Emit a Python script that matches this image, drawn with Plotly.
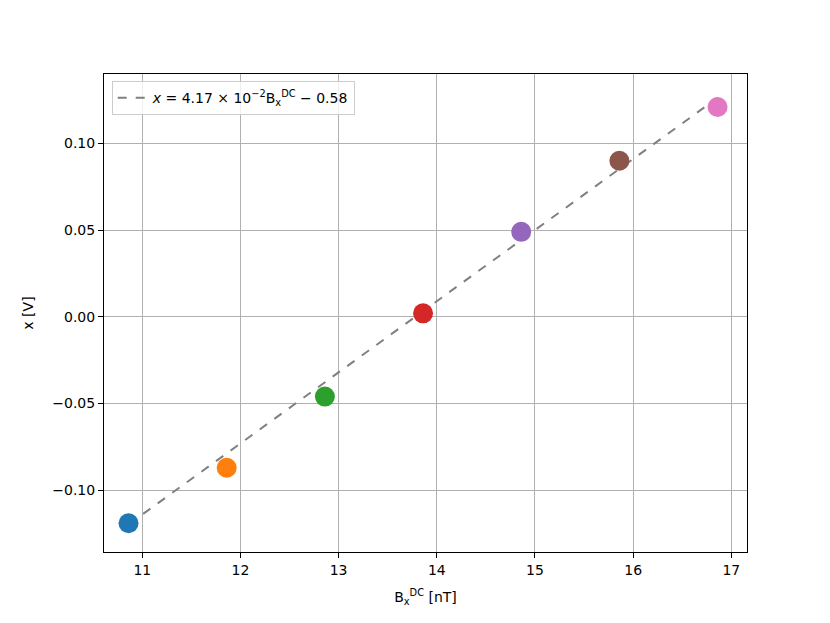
import numpy as np
import plotly.graph_objects as go

# measurements
b_field = [10.86, 11.86, 12.86, 13.86, 14.86, 15.86, 16.86]
x_volt = [-0.119, -0.087, -0.046, 0.002, 0.049, 0.090, 0.121]
colors = ['#1f77b4', '#ff7f0e', '#2ca02c', '#d62728', '#9467bd', '#8c564b', '#e377c2']

# fit as drawn
slope = 0.0410
intercept = -0.565

fig = go.Figure()

fit_x = [b_field[0], b_field[-1]]
fig.add_trace(go.Scatter(
    x=fit_x, y=[slope * v + intercept for v in fit_x],
    mode='lines', line=dict(color='gray', dash='dash', width=2),
    name='<i>x</i> = 4.17 × 10<sup>−2</sup>B<sub>x</sub><sup>DC</sup> − 0.58',
))

for bx, xv, c in zip(b_field, x_volt, colors):
    fig.add_trace(go.Scatter(
        x=[bx], y=[xv], mode='markers',
        marker=dict(color=c, size=20),
        showlegend=False,
    ))

axis_style = dict(
    showgrid=True, gridcolor='#b0b0b0', gridwidth=1,
    showline=True, linecolor='black', mirror=True, linewidth=1,
    ticks='outside', ticklen=5, tickcolor='black',
    zeroline=False, tickfont=dict(size=14, color='black'),
)

fig.update_xaxes(range=[10.61, 17.16], dtick=1,
                 title=dict(text='B<sub>x</sub><sup>DC</sup> [nT]', font=dict(size=14)),
                 **axis_style)
fig.update_yaxes(range=[-0.1356, 0.140], tickvals=[-0.10, -0.05, 0.0, 0.05, 0.10],
                 ticktext=['−0.10', '−0.05', '0.00', '0.05', '0.10'],
                 title=dict(text='x [V]', font=dict(size=14)),
                 **axis_style)

fig.update_layout(
    width=830, height=623,
    margin=dict(l=96, r=91, t=66, b=79),
    plot_bgcolor='white', paper_bgcolor='white',
    font=dict(family='DejaVu Sans', color='black'),
    legend=dict(x=0.012, y=0.985, xanchor='left', yanchor='top',
                bgcolor='rgba(255,255,255,0.8)', bordercolor='#cccccc', borderwidth=1,
                font=dict(size=14)),
)

fig.write_html("out.html")
